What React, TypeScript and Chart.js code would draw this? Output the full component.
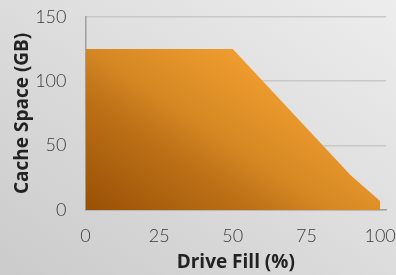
import React, { useEffect, useRef } from "react";
import { Chart, registerables } from "chart.js";

Chart.register(...registerables);

const driveFill = [0, 50, 90, 100];
const cacheSpaceGB = [125, 125, 27, 7];
const xTicks = [0, 25, 50, 75, 100];
const yTicks = [0, 50, 100, 150];
const xTitle = "Drive Fill (%)";
const yTitle = "Cache Space (GB)";

export default function App() {
  const ref = useRef<HTMLCanvasElement | null>(null);

  useEffect(() => {
    document.body.style.margin = "0";
    const canvas = ref.current!;
    const chart = new Chart(canvas, {
      type: "line",
      data: {
        datasets: [
          {
            data: driveFill.map((x, i) => ({ x, y: cacheSpaceGB[i] })),
            borderWidth: 0,
            borderColor: "rgba(0,0,0,0)",
            pointRadius: 0,
            tension: 0,
            fill: "origin",
            backgroundColor: (ctx: any) => {
              const area = ctx.chart.chartArea;
              if (!area) return "#e0902a";
              const g = ctx.chart.ctx.createLinearGradient(area.left, area.bottom, area.left + 130, area.top);
              g.addColorStop(0, "#985005");
              g.addColorStop(0.4, "#bd7016");
              g.addColorStop(0.6, "#d68923");
              g.addColorStop(1, "#f5a132");
              return g;
            },
          },
        ],
      },
      options: {
        animation: false,
        responsive: false,
        maintainAspectRatio: false,
        layout: { padding: { top: 16.7, right: 10, left: 0, bottom: 0 } },
        plugins: { legend: { display: false }, tooltip: { enabled: false } },
        scales: {
          x: {
            type: "linear",
            min: 0,
            max: 102,
            afterBuildTicks: (s: any) => {
              s.ticks = xTicks.map((v) => ({ value: v }));
            },
            afterFit: (s: any) => {
              s.height = 65;
              s.paddingLeft = 0;
              s.paddingRight = 0;
            },
            grid: { display: false, drawTicks: false },
            border: { display: true, color: "#a0a0a0", width: 1.5 },
            ticks: {
              color: "#3a3a3a",
              font: { family: "Lato", size: 18, weight: "300" },
              padding: 15,
              maxRotation: 0,
            },
            title: {
              display: true,
              text: xTitle,
              color: "#222",
              font: { family: "Open Sans", size: 19, weight: "bold" },
              padding: { top: 0, bottom: 1 },
            },
          },
          y: {
            type: "linear",
            min: 0,
            max: 150,
            afterBuildTicks: (s: any) => {
              s.ticks = yTicks.map((v) => ({ value: v }));
            },
            afterFit: (s: any) => {
              s.width = 85.5;
              s.paddingTop = 0;
              s.paddingBottom = 0;
            },
            grid: { color: "#c8c8c8", lineWidth: 1.5, drawTicks: false },
            border: { display: true, color: "#a0a0a0", width: 1.5 },
            ticks: {
              color: "#3a3a3a",
              font: { family: "Lato", size: 18, weight: "300" },
              padding: 19,
            },
            title: {
              display: true,
              text: yTitle,
              color: "#222",
              font: { family: "Open Sans", size: 19, weight: "bold" },
              padding: { top: 11.5, bottom: 0 },
            },
          },
        },
      },
    });
    return () => chart.destroy();
  }, []);

  return (
    <div
      style={{
        position: "fixed",
        left: 0,
        top: 0,
        width: 396,
        height: 275,
        background: "linear-gradient(to top right, #cbcbcb 0%, #dedede 55%, #ededed 100%)",
      }}
    >
      <canvas ref={ref} width={396} height={275} style={{ display: "block" }} />
    </div>
  );
}
